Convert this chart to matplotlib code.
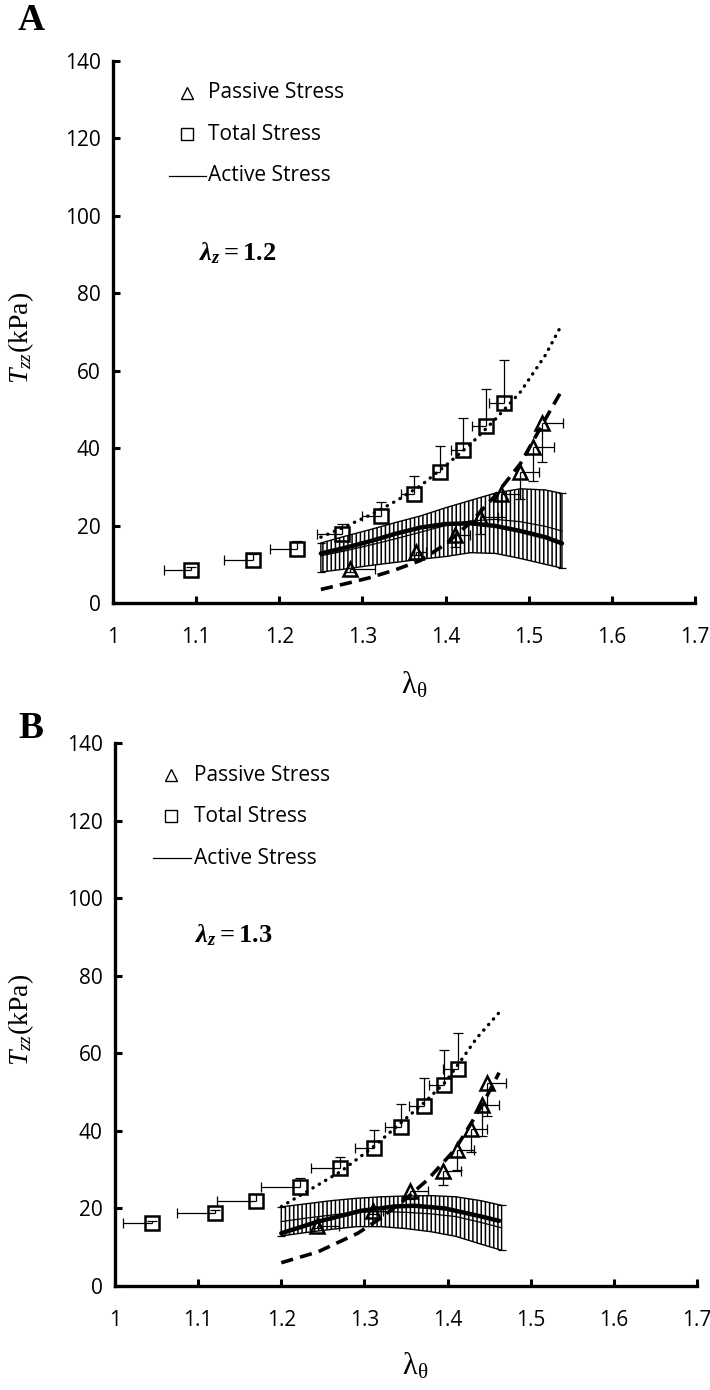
import matplotlib
matplotlib.use('Agg')
import numpy as np
import matplotlib.pyplot as plt

plt.rcParams['font.family'] = ['Open Sans', 'DejaVu Sans']
plt.rcParams['mathtext.fontset'] = 'custom'
plt.rcParams['mathtext.rm'] = 'Liberation Serif'
plt.rcParams['mathtext.it'] = 'Liberation Serif:italic'
plt.rcParams['mathtext.bf'] = 'Liberation Serif:bold'
plt.rcParams['mathtext.bfit'] = 'Liberation Serif:italic:bold'
plt.rcParams['hatch.linewidth'] = 1.1

# ---------------- axis ticks ----------------
x_ticks = [1.0, 1.1, 1.2, 1.3, 1.4, 1.5, 1.6, 1.7]
x_tick_labels = ['1', '1.1', '1.2', '1.3', '1.4', '1.5', '1.6', '1.7']
y_ticks = [0, 20, 40, 60, 80, 100, 120, 140]
legend_labels = ['Passive Stress', 'Total Stress', 'Active Stress']

# ---------------- Panel A (lambda_z = 1.2) ----------------
sqA_x = [1.094, 1.168, 1.221, 1.276, 1.322, 1.362, 1.393, 1.421, 1.449, 1.470]
sqA_y = [8.5, 11.1, 13.9, 17.8, 22.6, 28.2, 33.8, 39.4, 45.6, 51.7]
sqA_xlo = [0.033, 0.034, 0.032, 0.031, 0.022, 0.016, 0.008, 0.015, 0.017, 0.018]
sqA_yhi = [0.8, 1.5, 2.2, 2.6, 3.4, 4.7, 6.7, 8.4, 9.8, 11.0]

trA_x = [1.285, 1.365, 1.411, 1.442, 1.467, 1.489, 1.505, 1.516]
trA_y = [8.7, 13.3, 17.5, 22.2, 28.1, 33.8, 40.3, 46.5]
trA_xhi = [0.030, 0.012, 0.018, 0.021, 0.022, 0.023, 0.025, 0.025]
trA_ylo = [0.6, 1.0, 3.0, 4.3, 5.9, 6.9, 8.7, 10.2]

curveA_x = [1.25, 1.28, 1.31, 1.34, 1.37, 1.40, 1.43, 1.46, 1.49, 1.52, 1.54]
totA = [17.0, 19.8, 22.8, 26.3, 30.3, 35.5, 41.0, 47.5, 54.5, 64.0, 72.0]
passA = [3.5, 5.0, 6.6, 8.6, 11.0, 15.2, 20.8, 27.8, 36.0, 47.5, 55.0]
actA = [12.8, 14.3, 16.0, 17.9, 19.5, 20.4, 20.6, 19.9, 18.6, 17.0, 15.4]
bandA_up = [15.5, 17.3, 19.0, 20.8, 22.5, 24.6, 26.5, 28.4, 29.5, 29.2, 28.3]
bandA_lo = [8.0, 8.8, 9.7, 10.5, 11.3, 12.0, 13.0, 12.8, 11.5, 10.0, 9.0]
bandA_mean = [12.2, 13.5, 15.0, 16.6, 18.3, 20.0, 21.2, 21.6, 21.0, 19.8, 18.6]

# ---------------- Panel B (lambda_z = 1.3) ----------------
sqB_x = [1.045, 1.120, 1.169, 1.223, 1.271, 1.312, 1.344, 1.372, 1.396, 1.412]
sqB_y = [16.2, 18.7, 22.0, 25.5, 30.3, 35.7, 41.1, 46.4, 51.9, 56.0]
sqB_xlo = [0.035, 0.046, 0.046, 0.048, 0.035, 0.023, 0.019, 0.018, 0.018, 0.017]
sqB_yhi = [0.5, 1.0, 1.7, 2.4, 3.0, 4.6, 5.8, 7.3, 8.9, 9.3]

trB_x = [1.243, 1.310, 1.355, 1.394, 1.411, 1.428, 1.441, 1.448]
trB_y = [15.5, 19.3, 24.4, 29.6, 35.0, 40.4, 46.6, 52.4]
trB_xhi = [0.026, 0.012, 0.022, 0.022, 0.021, 0.020, 0.021, 0.022]
trB_ylo = [0.6, 0.8, 2.0, 3.5, 5.0, 5.8, 7.8, 8.6]

totB_x = [1.200, 1.224, 1.272, 1.312, 1.344, 1.372, 1.397, 1.413, 1.435, 1.462]
totB = [20.5, 23.5, 29.6, 36.1, 42.1, 47.3, 52.5, 57.2, 63.9, 70.5]
passB_x = [1.200, 1.244, 1.292, 1.316, 1.346, 1.376, 1.409, 1.441, 1.462]
passB = [6.0, 8.8, 13.6, 17.0, 21.8, 27.4, 35.2, 46.4, 55.0]
actB_x = [1.200, 1.244, 1.296, 1.336, 1.360, 1.397, 1.437, 1.462]
actB = [13.6, 16.6, 19.4, 20.5, 20.7, 20.0, 18.1, 16.8]
bandB_x = [1.20, 1.23, 1.26, 1.29, 1.32, 1.35, 1.38, 1.41, 1.44, 1.465]
bandB_up = [20.4, 21.2, 22.0, 22.6, 23.0, 23.2, 23.3, 23.0, 22.0, 20.8]
bandB_lo = [12.9, 13.8, 14.6, 15.3, 15.3, 14.8, 14.0, 12.8, 10.8, 9.2]
bandB_mean = [16.6, 17.5, 18.3, 19.0, 19.2, 19.0, 18.6, 17.9, 16.4, 15.0]

W, H = 710, 1390
fig = plt.figure(figsize=(W / 100, H / 100), dpi=100)


def px_axes(left, top, right, bottom):
    return fig.add_axes([left / W, 1 - bottom / H, (right - left) / W, (bottom - top) / H])


def draw_panel(ax, sx, sy, sxlo, syhi, tx, ty, txhi, tylo,
               ctx, ctot, cpx, cpass, cax, cact, bx, bup, blo, bmean,
               lz_text, leg_x, lz_xy):
    ax.set_xlim(1.0, 1.7)
    ax.set_ylim(0, 140)
    for s in ['top', 'right']:
        ax.spines[s].set_visible(False)
    for s in ['left', 'bottom']:
        ax.spines[s].set_linewidth(2.4)
    ax.set_xticks(x_ticks)
    ax.set_xticklabels(x_tick_labels)
    ax.set_yticks(y_ticks)
    ax.tick_params(axis='both', direction='in', length=5, width=2.2, labelsize=15)
    ax.tick_params(axis='x', pad=17)
    ax.tick_params(axis='y', pad=9)

    # hatched SD band of active stress
    ax.fill_between(bx, blo, bup, facecolor='none', edgecolor='black',
                    hatch='||||', linewidth=1.0, zorder=1)
    ax.plot(bx, bmean, color='black', lw=0.9, zorder=2)
    ax.plot([bx[0], bx[0], bx[-1], bx[-1]], [bup[0], blo[0], bup[-1], blo[-1]],
            ls='none', marker='_', ms=6, mew=0.9, color='black', zorder=2)

    # model curves
    ax.plot(cax, cact, color='black', lw=3.2, solid_capstyle='round', zorder=3)
    ax.plot(ctx, ctot, color='black', lw=2.4, linestyle=(0, (0.1, 2.1)),
            dash_capstyle='round', zorder=3)
    ax.plot(cpx, cpass, color='black', lw=2.6, linestyle=(0, (3.4, 2.0)), zorder=3)

    zeros_s = np.zeros(len(sx))
    zeros_t = np.zeros(len(tx))
    # total stress (squares): left x-error, upper y-error
    ax.errorbar(sx, sy, xerr=[sxlo, zeros_s], yerr=[zeros_s, syhi], fmt='none',
                ecolor='black', elinewidth=0.9, capsize=0, zorder=4)
    ax.plot(np.array(sx) - np.array(sxlo), sy, ls='none', marker='|', ms=7, mew=0.9,
            color='black', zorder=4)
    ax.plot(sx, np.array(sy) + np.array(syhi), ls='none', marker='_', ms=7, mew=0.9,
            color='black', zorder=4)
    ax.plot(sx, sy, ls='none', marker='s', ms=9.5, mfc='none', mec='black', mew=1.8, zorder=5)

    # passive stress (triangles): right x-error, lower y-error
    ax.errorbar(tx, ty, xerr=[zeros_t, txhi], yerr=[tylo, zeros_t], fmt='none',
                ecolor='black', elinewidth=0.9, capsize=0, zorder=4)
    ax.plot(np.array(tx) + np.array(txhi), ty, ls='none', marker='|', ms=7, mew=0.9,
            color='black', zorder=4)
    ax.plot(tx, np.array(ty) - np.array(tylo), ls='none', marker='_', ms=7, mew=0.9,
            color='black', zorder=4)
    ax.plot(tx, ty, ls='none', marker='^', ms=10.5, mfc='none', mec='black', mew=1.8, zorder=5)

    # legend (hand placed, axes fraction)
    x0, t0 = leg_x
    ax.plot([x0], [0.941], marker='^', ms=8.5, mfc='none', mec='black', mew=1.0,
            transform=ax.transAxes, clip_on=False)
    ax.text(t0, 0.941, legend_labels[0], transform=ax.transAxes, va='center',
            ha='left', fontsize=15)
    ax.plot([x0], [0.865], marker='s', ms=8, mfc='none', mec='black', mew=1.0,
            transform=ax.transAxes, clip_on=False)
    ax.text(t0, 0.865, legend_labels[1], transform=ax.transAxes, va='center',
            ha='left', fontsize=15)
    ax.plot([x0 - 0.031, t0 - 0.004], [0.788, 0.788], color='black', lw=0.9,
            transform=ax.transAxes, clip_on=False)
    ax.text(t0, 0.788, legend_labels[2], transform=ax.transAxes, va='center',
            ha='left', fontsize=15)

    ax.text(lz_xy[0], lz_xy[1], lz_text, transform=ax.transAxes, va='center',
            ha='left', fontsize=19)


axA = px_axes(113, 61, 695, 603)
draw_panel(axA, sqA_x, sqA_y, sqA_xlo, sqA_yhi, trA_x, trA_y, trA_xhi, trA_ylo,
           curveA_x, totA, curveA_x, passA, curveA_x, actA,
           curveA_x, bandA_up, bandA_lo, bandA_mean,
           r'$\mathbfit{\lambda}_{\mathbfit{z}}\mathbf{=1.2}$',
           (0.127, 0.163), (0.148, 0.645))

axB = px_axes(115, 743, 697, 1286)
draw_panel(axB, sqB_x, sqB_y, sqB_xlo, sqB_yhi, trB_x, trB_y, trB_xhi, trB_ylo,
           totB_x, totB, passB_x, passB, actB_x, actB,
           bandB_x, bandB_up, bandB_lo, bandB_mean,
           r'$\mathbfit{\lambda}_{\mathbfit{z}}\mathbf{=1.3}$',
           (0.096, 0.135), (0.138, 0.645))

# axis titles and panel letters (figure pixel placement)
def ftext(x, y, s, **kw):
    fig.text(x / W, 1 - y / H, s, **kw)

ftext(414, 685, r'$\mathrm{\lambda_{\theta}}$', ha='center', va='center', fontsize=22)
ftext(415, 1366, r'$\mathrm{\lambda_{\theta}}$', ha='center', va='center', fontsize=22)
ftext(21, 338, r'$T_{zz}$(kPa)', ha='center', va='center', rotation=90,
      fontsize=20, family='Liberation Serif')
ftext(21, 1020, r'$T_{zz}$(kPa)', ha='center', va='center', rotation=90,
      fontsize=20, family='Liberation Serif')
ftext(31, 20, 'A', ha='center', va='center', fontsize=27, fontweight='bold',
      family='Liberation Serif')
ftext(31, 728, 'B', ha='center', va='center', fontsize=27, fontweight='bold',
      family='Liberation Serif')

fig.savefig('out.png', dpi=100)
